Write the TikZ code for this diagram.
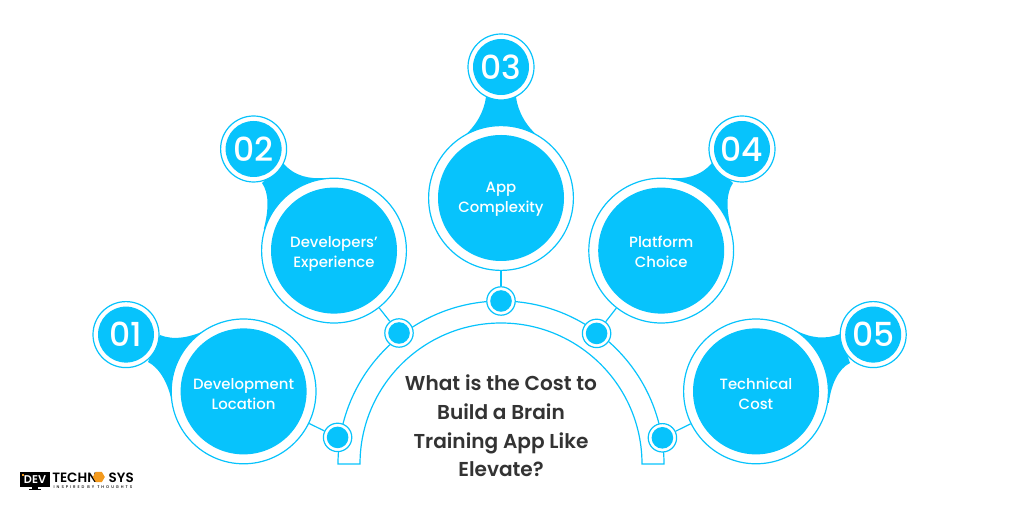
\documentclass[tikz,border=0pt]{standalone}
\usepackage{fontspec}
\setmainfont{Poppins Medium}
\newfontfamily\logofont{Poppins SemiBold}
\usetikzlibrary{shapes.geometric}
\definecolor{appblue}{HTML}{07C3FC}
\definecolor{appdark}{HTML}{333333}
\definecolor{logoorange}{HTML}{F39A1E}
\tikzset{
  ringline/.style={draw=appblue,line width=0.03cm},
  bigring/.style={circle,ringline,fill=white,inner sep=0pt,minimum size=3.62cm},
  bigdisc/.style={circle,fill=appblue,inner sep=0pt,minimum size=3.15cm},
  disctext/.style={text=white,align=center,inner sep=0pt,yshift=-0.08cm,font=\fontsize{10.6}{14.2}\selectfont},
  numring/.style={circle,ringline,fill=white,inner sep=0pt,minimum size=1.65cm},
  numdisc/.style={circle,fill=appblue,inner sep=0pt,minimum size=1.4cm,text=white,
    font=\fontsize{23.5}{24}\selectfont},
  dotring/.style={circle,ringline,fill=white,inner sep=0pt,minimum size=0.71cm},
  dotdisc/.style={circle,fill=appblue,inner sep=0pt,minimum size=0.54cm},
  blob/.style={fill=appblue,draw=none},
  logotext/.style={text=black,inner sep=0pt,text height=0.22cm,text depth=0pt,font=\logofont\fontsize{9.6}{10}\selectfont},
}
\begin{document}
\begin{tikzpicture}
\useasboundingbox (0,0) rectangle (25.35,12.675);

% Drawing arch
\draw [ringline] (8.450,1.075) arc (180:0:4.075) -- (16.050,1.075) arc (0:180:3.525) -- cycle;%

% Drawing blobs behind the rings
\fill [blob] (4.000,4.300) .. controls (4.375,4.150) and (4.750,4.250) .. (5.175,4.425) -- (6.090,2.890) -- (4.300,2.600) .. controls (4.225,3.050) and (4.000,3.475) .. (3.700,3.625) -- cycle;%
\fill [blob] (7.075,8.600) .. controls (7.375,8.250) and (7.750,8.200) .. (8.125,8.225) -- (8.350,6.410) -- (6.595,6.950) .. controls (6.725,7.450) and (6.725,7.850) .. (6.550,8.100) -- cycle;%
\fill [blob] (12.150,10.250) .. controls (12.100,9.875) and (11.900,9.525) .. (11.575,9.250) -- (13.475,9.250) .. controls (13.150,9.525) and (12.950,9.875) .. (12.900,10.250) -- cycle;%
\fill [blob] (17.800,8.600) .. controls (17.500,8.250) and (17.125,8.200) .. (16.750,8.225) -- (16.530,6.410) -- (18.280,6.950) .. controls (18.150,7.450) and (18.150,7.850) .. (18.325,8.100) -- cycle;%
\fill [blob] (21.000,4.325) .. controls (20.625,4.175) and (20.250,4.225) .. (19.875,4.425) -- (18.900,2.890) -- (20.720,2.600) .. controls (20.775,3.050) and (20.950,3.450) .. (21.250,3.600) -- cycle;%

% Drawing big circles
\node [bigring] (ring1) at (6.090,2.890) {};%
\node [bigring] (ring2) at (8.350,6.410) {};%
\node [bigring] (ring3) at (12.525,7.725) {};%
\node [bigring] (ring4) at (16.530,6.410) {};%
\node [bigring] (ring5) at (18.900,2.890) {};%

% Drawing number circles
\node [numring] (numring1) at (3.150,4.310) {};%
\node [numring] (numring2) at (6.340,8.950) {};%
\node [numring] (numring3) at (12.525,11.000) {};%
\node [numring] (numring4) at (18.550,8.950) {};%
\node [numring] (numring5) at (21.830,4.310) {};%

% Drawing junction dots
\node [dotring] (dot1) at (8.440,1.740) {};%
\node [dotring] (dot2) at (9.975,4.350) {};%
\node [dotring] (dot3) at (12.525,5.150) {};%
\node [dotring] (dot4) at (14.915,4.340) {};%
\node [dotring] (dot5) at (16.560,1.730) {};%

% Drawing links
\draw [ringline] (ring1) -- (dot1);%
\draw [ringline] (ring2) -- (dot2);%
\draw [ringline] (ring3) -- (dot3);%
\draw [ringline] (ring4) -- (dot4);%
\draw [ringline] (ring5) -- (dot5);%

% Filling discs
\node [bigdisc] (disc1) at (ring1) {};%
\node [bigdisc] (disc2) at (ring2) {};%
\node [bigdisc] (disc3) at (ring3) {};%
\node [bigdisc] (disc4) at (ring4) {};%
\node [bigdisc] (disc5) at (ring5) {};%
\node [numdisc] (num1) at (numring1) {01};%
\node [numdisc] (num2) at (numring2) {02};%
\node [numdisc] (num3) at (numring3) {03};%
\node [numdisc] (num4) at (numring4) {04};%
\node [numdisc] (num5) at (numring5) {05};%
\node [dotdisc] (center1) at (dot1) {};%
\node [dotdisc] (center2) at (dot2) {};%
\node [dotdisc] (center3) at (dot3) {};%
\node [dotdisc] (center4) at (dot4) {};%
\node [dotdisc] (center5) at (dot5) {};%

% Marking disc labels
\node [disctext,yshift=0.010cm] (label1) at (disc1) {Development\\Location};%
\node [disctext] (label2) at (disc2) {Developers’\\Experience};%
\node [disctext,yshift=0.040cm] (label3) at (disc3) {App\\Complexity};%
\node [disctext,yshift=0.050cm] (label4) at (disc4) {Platform\\Choice};%
\node [disctext,yshift=0.025cm] (label5) at (disc5) {Technical\\Cost};%

% Marking title
\node [text=appdark,align=center,font=\logofont\fontsize{14.3}{20.4}\selectfont] (title) at (12.525,2.025)
  {What is the Cost to\\Build a Brain\\Training App Like\\Elevate?};%

% Marking logo
\node [fill=black,text=white,inner sep=0pt,minimum width=0.75cm,minimum height=0.375cm,font=\logofont\fontsize{8}{8}\selectfont] (logobox) at (0.875,0.675) {DEV};%
\fill [logoorange] (0.545,0.770) rectangle (0.610,0.830);%
\fill [black] (0.800,0.430) rectangle (0.950,0.490);%
\fill [black] (0.730,0.420) rectangle (1.020,0.450);%
\node [logotext,anchor=base west] (logotech) at (1.300,0.600) {TECHN};%
\node [regular polygon,regular polygon sides=6,fill=logoorange,inner sep=0pt,minimum size=0.30cm] (logohex) at (2.470,0.750) {};%
\node [logotext,anchor=base east] (logosys) at (3.350,0.600) {SYS};%
\node [text=black,inner sep=0pt,text height=0.06cm,text depth=0pt,anchor=base,font=\addfontfeature{LetterSpace=50}\fontsize{2.8}{3}\selectfont] (logotag) at (2.325,0.470) {INSPIRED BY THOUGHTS};%
\end{tikzpicture}
\end{document}
